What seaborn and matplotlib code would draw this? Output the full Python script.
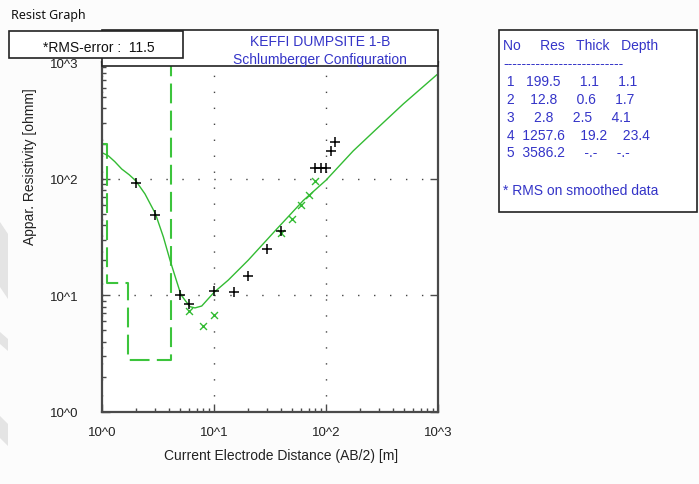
import matplotlib
matplotlib.use("Agg")
import matplotlib.pyplot as plt
from matplotlib.patches import Rectangle, Polygon
from matplotlib.ticker import FixedLocator, FixedFormatter, NullFormatter
import pandas as pd
import seaborn as sns

# ---- field data -------------------------------------------------------
ab2_obs = [2.0, 3.0, 5.0, 6.0, 10, 15, 20, 30, 40, 80, 90, 100, 110, 120]
rho_obs = [92, 49, 10.1, 8.4, 10.8, 10.6, 14.7, 25.2, 35.6, 123, 123, 124, 172, 208]

ab2_smooth = [6, 8, 10, 40, 50, 60, 70, 80]
rho_smooth = [7.3, 5.5, 6.8, 34.5, 45, 59, 73, 95]

# computed sounding curve of the layered model
ab2_model = [1.0, 1.14, 1.3, 1.5, 1.75, 2.0, 2.42, 3.0, 3.53, 4.05, 4.55, 5.07,
             5.6, 6.1, 6.76, 7.77, 10.0, 13.4, 20.2, 35, 62.7, 100, 175, 284,
             490, 980]
rho_model = [167, 157, 140, 121, 108, 96, 74, 50, 31.7, 20, 14, 10.1,
             8.9, 8.0, 7.8, 8.1, 10.6, 13.5, 20, 35.6, 65, 97, 173, 268,
             437, 780]

# layered model
layer_no = [1, 2, 3, 4, 5]
layer_res = [199.5, 12.8, 2.8, 1257.6, 3586.2]
layer_thick = ["1.1", "0.6", "2.5", "19.2", "-.-"]
layer_depth = ["1.1", "1.7", "4.1", "23.4", "-.-"]
layer_bottom = [1.1, 1.7, 4.1, 23.4]

rms_error = 11.5
decades = [1, 10, 100, 1000]
decade_labels = ["10^0", "10^1", "10^2", "10^3"]

title_lines = ["KEFFI DUMPSITE 1-B", "Schlumberger Configuration"]
x_label = "Current Electrode Distance (AB/2) [m]"
y_label = "Appar. Resistivity [ohmm]"

# ---- style ------------------------------------------------------------
sns.set_theme(style="white")
plt.rcParams["font.family"] = ["Liberation Sans", "DejaVu Sans"]

GREEN = "#33bb33"
BLUE = "#3434c8"
AXC = "#4a4a4a"

W, H = 699, 485
fig = plt.figure(figsize=(W / 100, H / 100), dpi=100, facecolor="#fcfcfc")


def fx(px):
    return px / W


def fy(py):
    return 1 - py / H


ax = fig.add_axes([fx(102), fy(413), fx(438) - fx(102), fy(63) - fy(413)])
ax.set_facecolor("white")

# layered model as dashed steps (starts at the left edge of the plot)
step_x = [1.0] + layer_bottom + [1000.0]
step_y = layer_res + [layer_res[-1]]
steps = pd.DataFrame({"x": step_x, "y": step_y})
sns.lineplot(data=steps, x="x", y="y", sort=False, estimator=None,
             drawstyle="steps-post", color="#3cc43c", linewidth=1.5, ax=ax)
ax.lines[-1].set_dashes([9.5, 3.5])

model = pd.DataFrame({"x": ab2_model, "y": rho_model})
sns.lineplot(data=model, x="x", y="y", sort=False, estimator=None,
             color=GREEN, linewidth=1.0, ax=ax)

smooth = pd.DataFrame({"x": ab2_smooth, "y": rho_smooth})
sns.scatterplot(data=smooth, x="x", y="y", marker="x", s=25, color=GREEN,
                linewidth=1.0, ax=ax, zorder=4)

obs = pd.DataFrame({"x": ab2_obs, "y": rho_obs})
sns.scatterplot(data=obs, x="x", y="y", marker="+", s=48, color="black",
                linewidth=1.1, ax=ax, zorder=5)

ax.set_xscale("log")
ax.set_yscale("log")
ax.set_xlim(1, 1000)
ax.set_ylim(1, 1000)

for axis in (ax.xaxis, ax.yaxis):
    axis.set_major_locator(FixedLocator(decades))
    axis.set_major_formatter(FixedFormatter(decade_labels))
    axis.set_minor_locator(FixedLocator(
        [m * d for d in decades[:-1] for m in range(2, 10)]))
    axis.set_minor_formatter(NullFormatter())

ax.tick_params(which="major", direction="in", length=6, width=1, color=AXC,
               left=True, bottom=True, right=True, top=False,
               labelsize=9.5, labelcolor="#222222")
ax.tick_params(which="minor", direction="in", length=3, width=1, color=AXC,
               left=True, bottom=True, right=False, top=False)
ax.tick_params(axis="y", which="major", pad=17)
ax.tick_params(axis="x", which="major", pad=10)

ax.grid(True, which="major", color="#444444", linewidth=1.0,
        linestyle=(0, (1, 10.5)))
for sp in ax.spines.values():
    sp.set_color(AXC)
    sp.set_linewidth(1.6)

ax.set_xlabel(x_label, fontsize=10, color="#222222")
ax.set_ylabel(y_label, fontsize=10, color="#222222")
ax.xaxis.set_label_coords((281 - 102) / 336, (413 - 449) / 350)
ax.yaxis.set_label_coords((30 - 102) / 336, (413 - 167) / 350)
ax.yaxis.label.set_va("center")
ax.xaxis.label.set_va("top")

# ---- header boxes -----------------------------------------------------
def box(x0, y0, x1, y1, lw=1.0, ec="#222222", z=6):
    r = Rectangle((fx(x0), fy(y1)), fx(x1) - fx(x0), fy(y0) - fy(y1),
                  transform=fig.transFigure, facecolor="white",
                  edgecolor=ec, linewidth=lw, zorder=z)
    fig.add_artist(r)


box(102, 31, 438, 67, lw=1.2)
fig.text(fx(320), fy(42), title_lines[0], color=BLUE, fontsize=10,
         ha="center", va="center", zorder=7)
fig.text(fx(320), fy(60), title_lines[1], color=BLUE, fontsize=10,
         ha="center", va="center", zorder=7)

box(9, 32, 183, 59, lw=1.2, z=8)
fig.text(fx(99), fy(48), f"*RMS-error :  {rms_error}", color="#111111",
         fontsize=10, ha="center", va="center", zorder=9)

fig.text(fx(11), fy(15), "Resist Graph", fontsize=9, color="#111111",
         family=["Noto Sans", "DejaVu Sans"], ha="left", va="center")

# ---- layer table ------------------------------------------------------
box(499, 31, 697, 213, lw=1.2)
tx = fx(503)
fig.text(tx, fy(46), "No     Res   Thick   Depth", color=BLUE, fontsize=10,
         ha="left", va="center", zorder=7)
fig.text(tx, fy(64), "-" * 26, color=BLUE, fontsize=10,
         ha="left", va="center", zorder=7)
row_y = [82, 100, 118, 136, 153]
for n, r, t, d, yy in zip(layer_no, layer_res, layer_thick, layer_depth, row_y):
    line = f"{n:>2}{r:>8}{t:>8}{d:>8}"
    fig.text(tx, fy(yy), line, color=BLUE, fontsize=10,
             ha="left", va="center", zorder=7)
fig.text(tx, fy(191), "* RMS on smoothed data", color=BLUE, fontsize=10,
         ha="left", va="center", zorder=7)

# faint page watermark along the left margin
for pts in ([(0, 223), (8, 235), (8, 300), (0, 288)],
            [(0, 333), (8, 340), (8, 352), (0, 345)],
            [(0, 417), (8, 425), (8, 447), (0, 439)]):
    fig.add_artist(Polygon([(fx(a), fy(b)) for a, b in pts], closed=True,
                           transform=fig.transFigure, facecolor="#e4e4e4",
                           edgecolor="none", zorder=0))

fig.savefig("out.png", dpi=100, facecolor=fig.get_facecolor())
